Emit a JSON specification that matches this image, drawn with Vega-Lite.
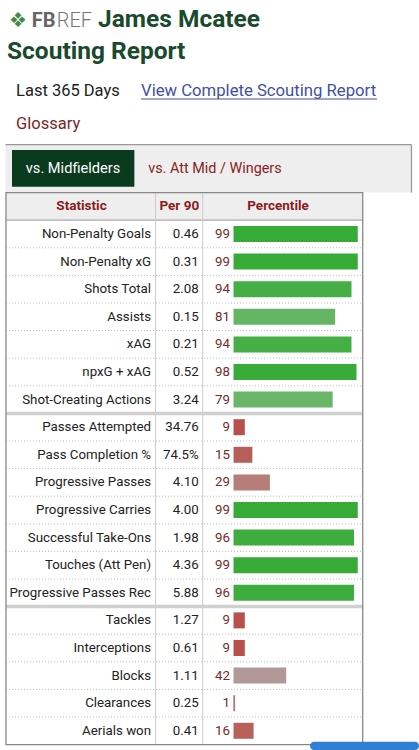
{
  "$schema": "https://vega.github.io/schema/vega-lite/v6.json",
  "width": 419,
  "height": 750,
  "autosize": {"type": "none"},
  "padding": 0,
  "background": "#ffffff",
  "config": {"view": {"stroke": null}, "font": "Roboto", "text": {"font": "Roboto"}, "scale": {"continuousPadding": 0}},
  "data": {"values": [
    {"row": 1, "stat": "Non-Penalty Goals", "per90": "0.46", "pct": 99},
    {"row": 2, "stat": "Non-Penalty xG", "per90": "0.31", "pct": 99},
    {"row": 3, "stat": "Shots Total", "per90": "2.08", "pct": 94},
    {"row": 4, "stat": "Assists", "per90": "0.15", "pct": 81},
    {"row": 5, "stat": "xAG", "per90": "0.21", "pct": 94},
    {"row": 6, "stat": "npxG + xAG", "per90": "0.52", "pct": 98},
    {"row": 7, "stat": "Shot-Creating Actions", "per90": "3.24", "pct": 79},
    {"row": 8, "stat": "Passes Attempted", "per90": "34.76", "pct": 9},
    {"row": 9, "stat": "Pass Completion %", "per90": "74.5%", "pct": 15},
    {"row": 10, "stat": "Progressive Passes", "per90": "4.10", "pct": 29},
    {"row": 11, "stat": "Progressive Carries", "per90": "4.00", "pct": 99},
    {"row": 12, "stat": "Successful Take-Ons", "per90": "1.98", "pct": 96},
    {"row": 13, "stat": "Touches (Att Pen)", "per90": "4.36", "pct": 99},
    {"row": 14, "stat": "Progressive Passes Rec", "per90": "5.88", "pct": 96},
    {"row": 15, "stat": "Tackles", "per90": "1.27", "pct": 9},
    {"row": 16, "stat": "Interceptions", "per90": "0.61", "pct": 9},
    {"row": 17, "stat": "Blocks", "per90": "1.11", "pct": 42},
    {"row": 18, "stat": "Clearances", "per90": "0.25", "pct": 1},
    {"row": 19, "stat": "Aerials won", "per90": "0.41", "pct": 16}
  ]},
  "layer": [
    {
      "data": {"values": [{}]},
      "mark": {"type": "rect", "fill": "#eeeeee"},
      "encoding": {
        "x": {"datum": -181.7, "type": "quantitative", "scale": {"domain": [-186.06, 147.8], "zero": false, "nice": false, "padding": 0}, "axis": null},
        "x2": {"datum": 141.8},
        "y": {"datum": -2.236, "type": "quantitative", "scale": {"domain": [-7.478, 19.696], "reverse": true, "zero": false, "nice": false, "padding": 0}, "axis": null},
        "y2": {"datum": -0.5}
      }
    },
    {
      "data": {"values": [{}]},
      "mark": {"type": "rule", "stroke": "#999999", "strokeWidth": 1.3},
      "encoding": {"x": {"datum": -181.7, "type": "quantitative"}, "x2": {"datum": 141.8}, "y": {"datum": -2.236, "type": "quantitative"}}
    },
    {
      "data": {"values": [{}]},
      "mark": {"type": "rule", "stroke": "#999999", "strokeWidth": 1.3},
      "encoding": {"x": {"datum": 141.8, "type": "quantitative"}, "y": {"datum": -2.236, "type": "quantitative"}, "y2": {"datum": -0.5}}
    },
    {
      "data": {"values": [{}]},
      "mark": {"type": "rect", "fill": "#0b3b1e"},
      "encoding": {"x": {"datum": -176.5, "type": "quantitative"}, "x2": {"datum": -79.0}, "y": {"datum": -2.043, "type": "quantitative"}, "y2": {"datum": -0.714}}
    },
    {
      "data": {"values": [{"t": "vs. Midfielders"}]},
      "mark": {"type": "text", "fontSize": 14.6, "color": "#ffffff", "align": "center", "baseline": "alphabetic"},
      "encoding": {"x": {"datum": -127.9, "type": "quantitative"}, "y": {"datum": -1.199, "type": "quantitative"}, "text": {"field": "t", "type": "nominal"}}
    },
    {
      "data": {"values": [{"t": "vs. Att Mid / Wingers"}]},
      "mark": {"type": "text", "fontSize": 14.4, "color": "#8a2424", "align": "left", "baseline": "alphabetic"},
      "encoding": {"x": {"datum": -68.0, "type": "quantitative"}, "y": {"datum": -1.199, "type": "quantitative"}, "text": {"field": "t", "type": "nominal"}}
    },
    {
      "data": {"values": [{}]},
      "mark": {"type": "rect", "fill": "#eeeeee"},
      "encoding": {"x": {"datum": -181.3, "type": "quantitative"}, "x2": {"datum": 102.95}, "y": {"datum": -0.5, "type": "quantitative"}, "y2": {"datum": 0.5}}
    },
    {
      "data": {"values": [{}]},
      "mark": {"type": "rule", "stroke": "#aaaaaa", "strokeWidth": 1.2},
      "encoding": {"x": {"datum": -181.3, "type": "quantitative"}, "x2": {"datum": 102.95}, "y": {"datum": 0.5, "type": "quantitative"}}
    },
    {
      "data": {"values": [{}]},
      "mark": {"type": "rule", "stroke": "#cccccc", "strokeWidth": 1},
      "encoding": {"x": {"datum": -62.15, "type": "quantitative"}, "y": {"datum": -0.5, "type": "quantitative"}, "y2": {"datum": 19.5}}
    },
    {
      "data": {"values": [{}]},
      "mark": {"type": "rule", "stroke": "#cccccc", "strokeWidth": 1},
      "encoding": {"x": {"datum": -24.54, "type": "quantitative"}, "y": {"datum": -0.5, "type": "quantitative"}, "y2": {"datum": 19.5}}
    },
    {
      "transform": [{"filter": "datum.row != 7 && datum.row != 14 && datum.row != 19"}],
      "mark": {"type": "rule", "stroke": "#bbbbbb", "strokeWidth": 1, "strokeDash": [1, 2], "yOffset": 13.8},
      "encoding": {"x": {"datum": -181.3, "type": "quantitative"}, "x2": {"datum": 102.95}, "y": {"field": "row", "type": "quantitative"}}
    },
    {
      "transform": [{"filter": "datum.row == 7 || datum.row == 14"}],
      "mark": {"type": "rule", "stroke": "#d0d0d0", "strokeWidth": 3.5, "yOffset": 13.8},
      "encoding": {"x": {"datum": -181.3, "type": "quantitative"}, "x2": {"datum": 102.95}, "y": {"field": "row", "type": "quantitative"}}
    },
    {
      "data": {"values": [{}]},
      "mark": {"type": "rect", "fill": "transparent", "stroke": "#888888", "strokeWidth": 1.3},
      "encoding": {"x": {"datum": -181.3, "type": "quantitative"}, "x2": {"datum": 102.95}, "y": {"datum": -0.5, "type": "quantitative"}, "y2": {"datum": 19.5}}
    },
    {
      "mark": {"type": "bar", "height": 16},
      "encoding": {
        "x": {"field": "pct", "type": "quantitative"},
        "x2": {"datum": 0},
        "y": {"field": "row", "type": "quantitative"},
        "color": {"field": "pct", "type": "quantitative", "legend": null,
          "scale": {"domain": [0, 50, 80, 100], "range": ["#b5363a", "#aaaaaa", "#66b666", "#33aa33"]}}
      }
    },
    {
      "mark": {"type": "text", "fontSize": 13.3, "color": "#222222", "align": "right", "baseline": "middle"},
      "encoding": {"x": {"datum": -65.7, "type": "quantitative"}, "y": {"field": "row", "type": "quantitative"}, "text": {"field": "stat", "type": "nominal"}}
    },
    {
      "mark": {"type": "text", "fontSize": 13.3, "color": "#222222", "align": "right", "baseline": "middle"},
      "encoding": {"x": {"datum": -27.7, "type": "quantitative"}, "y": {"field": "row", "type": "quantitative"}, "text": {"field": "per90", "type": "nominal"}}
    },
    {
      "mark": {"type": "text", "fontSize": 13.3, "color": "#732a2a", "align": "right", "baseline": "middle"},
      "encoding": {"x": {"datum": -2.8, "type": "quantitative"}, "y": {"field": "row", "type": "quantitative"}, "text": {"field": "pct", "type": "quantitative"}}
    },
    {
      "data": {"values": [{"t": "Statistic"}]},
      "mark": {"type": "text", "fontSize": 13.5, "fontWeight": "bold", "color": "#8b1c1c", "align": "center", "baseline": "middle"},
      "encoding": {"x": {"datum": -121.1, "type": "quantitative"}, "y": {"datum": 0, "type": "quantitative"}, "text": {"field": "t", "type": "nominal"}}
    },
    {
      "data": {"values": [{"t": "Per 90"}]},
      "mark": {"type": "text", "fontSize": 13.5, "fontWeight": "bold", "color": "#8b1c1c", "align": "center", "baseline": "middle"},
      "encoding": {"x": {"datum": -43.2, "type": "quantitative"}, "y": {"datum": 0, "type": "quantitative"}, "text": {"field": "t", "type": "nominal"}}
    },
    {
      "data": {"values": [{"t": "Percentile"}]},
      "mark": {"type": "text", "fontSize": 13.5, "fontWeight": "bold", "color": "#8b1c1c", "align": "center", "baseline": "middle"},
      "encoding": {"x": {"datum": 35.5, "type": "quantitative"}, "y": {"datum": 0, "type": "quantitative"}, "text": {"field": "t", "type": "nominal"}}
    },
    {
      "data": {"values": [{"t": "❖"}]},
      "mark": {"type": "text", "fontSize": 20, "color": "#3d8b47", "align": "center", "baseline": "alphabetic"},
      "encoding": {"x": {"datum": -171.7, "type": "quantitative"}, "y": {"datum": -6.5, "type": "quantitative"}, "text": {"field": "t", "type": "nominal"}}
    },
    {
      "data": {"values": [{"t": "FB"}]},
      "mark": {"type": "text", "fontSize": 20, "fontWeight": "bold", "color": "#666666", "align": "left", "baseline": "alphabetic"},
      "encoding": {"x": {"datum": -160.8, "type": "quantitative"}, "y": {"datum": -6.5, "type": "quantitative"}, "text": {"field": "t", "type": "nominal"}}
    },
    {
      "data": {"values": [{"t": "REF"}]},
      "mark": {"type": "text", "fontSize": 20, "fontWeight": 300, "color": "#777777", "align": "left", "baseline": "alphabetic"},
      "encoding": {"x": {"datum": -140.9, "type": "quantitative"}, "y": {"datum": -6.5, "type": "quantitative"}, "text": {"field": "t", "type": "nominal"}}
    },
    {
      "data": {"values": [{"t": "James Mcatee"}]},
      "mark": {"type": "text", "fontSize": 24.5, "fontWeight": "bold", "color": "#1a4a2c", "align": "left", "baseline": "alphabetic"},
      "encoding": {"x": {"datum": -107.97, "type": "quantitative"}, "y": {"datum": -6.5, "type": "quantitative"}, "text": {"field": "t", "type": "nominal"}}
    },
    {
      "data": {"values": [{"t": "Scouting Report"}]},
      "mark": {"type": "text", "fontSize": 24.5, "fontWeight": "bold", "color": "#1a4a2c", "align": "left", "baseline": "alphabetic"},
      "encoding": {"x": {"datum": -180.5, "type": "quantitative"}, "y": {"datum": -5.328, "type": "quantitative"}, "text": {"field": "t", "type": "nominal"}}
    },
    {
      "data": {"values": [{"t": "Last 365 Days"}]},
      "mark": {"type": "text", "fontSize": 16.5, "color": "#222222", "align": "left", "baseline": "alphabetic"},
      "encoding": {"x": {"datum": -173.3, "type": "quantitative"}, "y": {"datum": -4.0, "type": "quantitative"}, "text": {"field": "t", "type": "nominal"}}
    },
    {
      "data": {"values": [{"t": "View Complete Scouting Report"}]},
      "mark": {"type": "text", "fontSize": 16.7, "color": "#3f4fa6", "align": "left", "baseline": "alphabetic"},
      "encoding": {"x": {"datum": -73.7, "type": "quantitative"}, "y": {"datum": -4.0, "type": "quantitative"}, "text": {"field": "t", "type": "nominal"}}
    },
    {
      "data": {"values": [{}]},
      "mark": {"type": "rule", "stroke": "#3f4fa6", "strokeWidth": 1},
      "encoding": {"x": {"datum": -73.7, "type": "quantitative"}, "x2": {"datum": 114.3}, "y": {"datum": -3.891, "type": "quantitative"}}
    },
    {
      "data": {"values": [{"t": "Glossary"}]},
      "mark": {"type": "text", "fontSize": 16.5, "color": "#7f1f1f", "align": "left", "baseline": "alphabetic"},
      "encoding": {"x": {"datum": -173.3, "type": "quantitative"}, "y": {"datum": -2.804, "type": "quantitative"}, "text": {"field": "t", "type": "nominal"}}
    },
    {
      "data": {"values": [{}]},
      "mark": {"type": "rect", "fill": "#2f7fd6", "cornerRadius": 4},
      "encoding": {"x": {"datum": 60.96, "type": "quantitative"}, "x2": {"datum": 147.8}, "y": {"datum": 19.395, "type": "quantitative"}, "y2": {"datum": 19.696}}
    }
  ]
}
